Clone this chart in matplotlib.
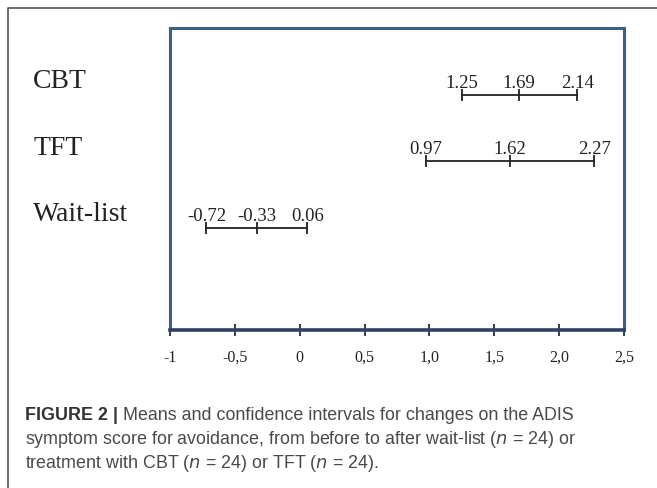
import matplotlib
matplotlib.use("Agg")
import matplotlib.pyplot as plt
from matplotlib.lines import Line2D

groups = ["CBT", "TFT", "Wait-list"]
lower = [1.25, 0.97, -0.72]
means = [1.69, 1.62, -0.33]
upper = [2.14, 2.27, 0.06]
ypos = [3, 2, 1]

xticks = [-1, -0.5, 0, 0.5, 1.0, 1.5, 2.0, 2.5]
xticklabels = ["-1", "-0,5", "0", "0,5", "1,0", "1,5", "2,0", "2,5"]

serif = ["Liberation Serif", "DejaVu Serif"]
blue = "#3f5f8a"

fig = plt.figure(figsize=(6.57, 4.88), dpi=100)
ax = fig.add_axes([170 / 657, 1 - 330 / 488, 454 / 657, 302 / 488])

for lo, m, hi, y in zip(lower, means, upper, ypos):
    ax.plot([lo, hi], [y, y], color="#222222", lw=1.3)
    ax.plot([lo, m, hi], [y, y, y], ls="none", marker="|", ms=9, mew=1.3, color="#222222")
    for v in (lo, m, hi):
        ax.annotate(f"{v:.2f}", (v, y), xytext=(0, 5), textcoords="offset points",
                    ha="center", va="baseline", fontsize=13.5, family=serif, color="#222222")

for g, y in zip(groups, ypos):
    ax.annotate(g, xy=(33 / 657, y), xycoords=("figure fraction", "data"),
                xytext=(0, 9.5), textcoords="offset points",
                ha="left", va="center", fontsize=20, family=serif, color="#222222")

ax.set_xlim(-1, 2.5)
ax.set_ylim(-0.54, 4.01)
ax.set_yticks([])
ax.set_xticks(xticks)
ax.set_xticklabels(xticklabels, family=serif, fontsize=11.5, color="#222222")
ax.tick_params(axis="x", direction="inout", length=9, width=1.3, color="#1f2f45", pad=10)
for side in ["left", "top", "right"]:
    ax.spines[side].set_color(blue)
    ax.spines[side].set_linewidth(2.2)
ax.spines["bottom"].set_color("#2c4260")
ax.spines["bottom"].set_linewidth(2.6)

# outer frame of the figure panel
fig.add_artist(Line2D([8 / 657, 8 / 657, 1], [0, 1 - 8 / 488, 1 - 8 / 488],
                      transform=fig.transFigure, color="#555555", lw=1.2))

cap = ["Means and confidence intervals for changes on the ADIS",
       "symptom score for avoidance, from before to after wait-list ($\\it{n}$ = 24) or",
       "treatment with CBT ($\\it{n}$ = 24) or TFT ($\\it{n}$ = 24)."]
sans = "Liberation Sans"
fs = 12.9
t = fig.text(25 / 657, 1 - 416 / 488, "FIGURE 2 | ", fontsize=fs, family=sans,
             weight="bold", color="#333333", va="center")
fig.canvas.draw()
bb = t.get_window_extent()
fig.text(bb.x1 / fig.bbox.width, 1 - 416 / 488, cap[0], fontsize=fs, family=sans,
         color="#4a4a4a", va="center")
fig.text(25 / 657, 1 - 440 / 488, cap[1], fontsize=fs, family=sans, color="#4a4a4a", va="center")
fig.text(25 / 657, 1 - 463 / 488, cap[2], fontsize=fs, family=sans, color="#4a4a4a", va="center")

fig.savefig("out.png", dpi=100)
